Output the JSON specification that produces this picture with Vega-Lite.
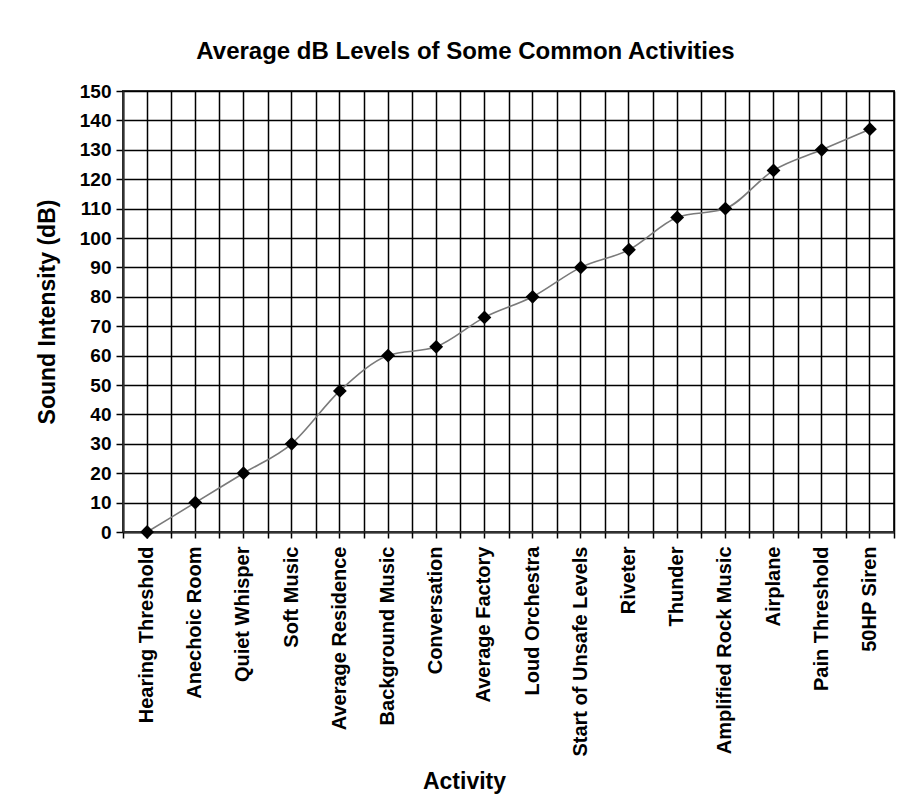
{
  "$schema": "https://vega.github.io/schema/vega-lite/v6.json",
  "width": 771,
  "height": 441,
  "padding": {"left": 36, "top": 40, "right": 5, "bottom": 5},
  "background": "white",
  "title": {
    "text": "Average dB Levels of Some Common Activities",
    "font": "Liberation Sans",
    "fontSize": 24,
    "fontWeight": "bold",
    "color": "#000",
    "anchor": "middle",
    "frame": "bounds",
    "offset": 18
  },
  "data": {
    "values": [
      {"activity": "Hearing Threshold", "db": 0},
      {"activity": "Anechoic Room", "db": 10},
      {"activity": "Quiet Whisper", "db": 20},
      {"activity": "Soft Music", "db": 30},
      {"activity": "Average Residence", "db": 48},
      {"activity": "Background Music", "db": 60},
      {"activity": "Conversation", "db": 63},
      {"activity": "Average Factory", "db": 73},
      {"activity": "Loud Orchestra", "db": 80},
      {"activity": "Start of Unsafe Levels", "db": 90},
      {"activity": "Riveter", "db": 96},
      {"activity": "Thunder", "db": 107},
      {"activity": "Amplified Rock Music", "db": 110},
      {"activity": "Airplane", "db": 123},
      {"activity": "Pain Threshold", "db": 130},
      {"activity": "50HP Siren", "db": 137}
    ]
  },
  "encoding": {
    "y": {
      "field": "db",
      "type": "quantitative",
      "scale": {"domain": [0, 150], "nice": false},
      "axis": {
        "title": "Sound Intensity (dB)",
        "values": [0, 10, 20, 30, 40, 50, 60, 70, 80, 90, 100, 110, 120, 130, 140, 150],
        "labelOverlap": false,
        "labelFont": "Liberation Sans",
        "labelFontWeight": "bold",
        "labelFontSize": 19,
        "labelColor": "#000",
        "labelPadding": 5,
        "tickSize": 7,
        "tickColor": "#000",
        "tickWidth": 1.5,
        "grid": true,
        "gridColor": "#000",
        "gridWidth": 1.5,
        "gridOpacity": 1,
        "domainColor": "#333",
        "domainWidth": 2,
        "titleFont": "Liberation Sans",
        "titleFontSize": 23,
        "titleFontWeight": "bold",
        "titleColor": "#000",
        "titlePadding": 20
      }
    }
  },
  "layer": [
    {
      "mark": {"type": "line", "interpolate": "monotone", "color": "#7a7a7a", "strokeWidth": 1.6},
      "encoding": {
        "x": {
          "field": "activity",
          "type": "nominal",
          "sort": null,
          "scale": {"type": "band", "paddingInner": 0, "paddingOuter": 0},
          "axis": {
            "orient": "bottom",
            "title": "Activity",
            "titleX": 341,
            "labelAngle": -90,
            "labelAlign": "right",
            "labelBaseline": "middle",
            "labelFont": "Liberation Sans",
            "labelFontWeight": "bold",
            "labelFontSize": 20,
            "labelColor": "#000",
            "labelPadding": 8,
            "labelLimit": 400,
            "labelOverlap": false,
            "ticks": true,
            "tickSize": 6,
            "tickColor": "#000",
            "tickWidth": 1.5,
            "grid": true,
            "gridColor": "#000",
            "gridWidth": 1.5,
            "gridOpacity": 1,
            "domain": true,
            "domainColor": "#333",
            "domainWidth": 2,
            "titleFont": "Liberation Sans",
            "titleFontSize": 23,
            "titleFontWeight": "bold",
            "titleColor": "#000",
            "titlePadding": 38
          }
        }
      }
    },
    {
      "mark": {"type": "point", "shape": "diamond", "filled": true, "color": "#000", "size": 190, "opacity": 1},
      "encoding": {
        "x": {
          "field": "activity",
          "type": "nominal",
          "sort": null,
          "axis": {
            "orient": "bottom",
            "title": null,
            "labels": false,
            "tickBand": "extent",
            "ticks": true,
            "tickSize": 6,
            "tickColor": "#000",
            "tickWidth": 1.5,
            "grid": true,
            "gridColor": "#000",
            "gridWidth": 1.5,
            "gridOpacity": 1,
            "domain": false
          }
        }
      }
    }
  ],
  "resolve": {"axis": {"x": "independent"}},
  "config": {
    "view": {"stroke": "#333", "strokeWidth": 2}
  }
}
